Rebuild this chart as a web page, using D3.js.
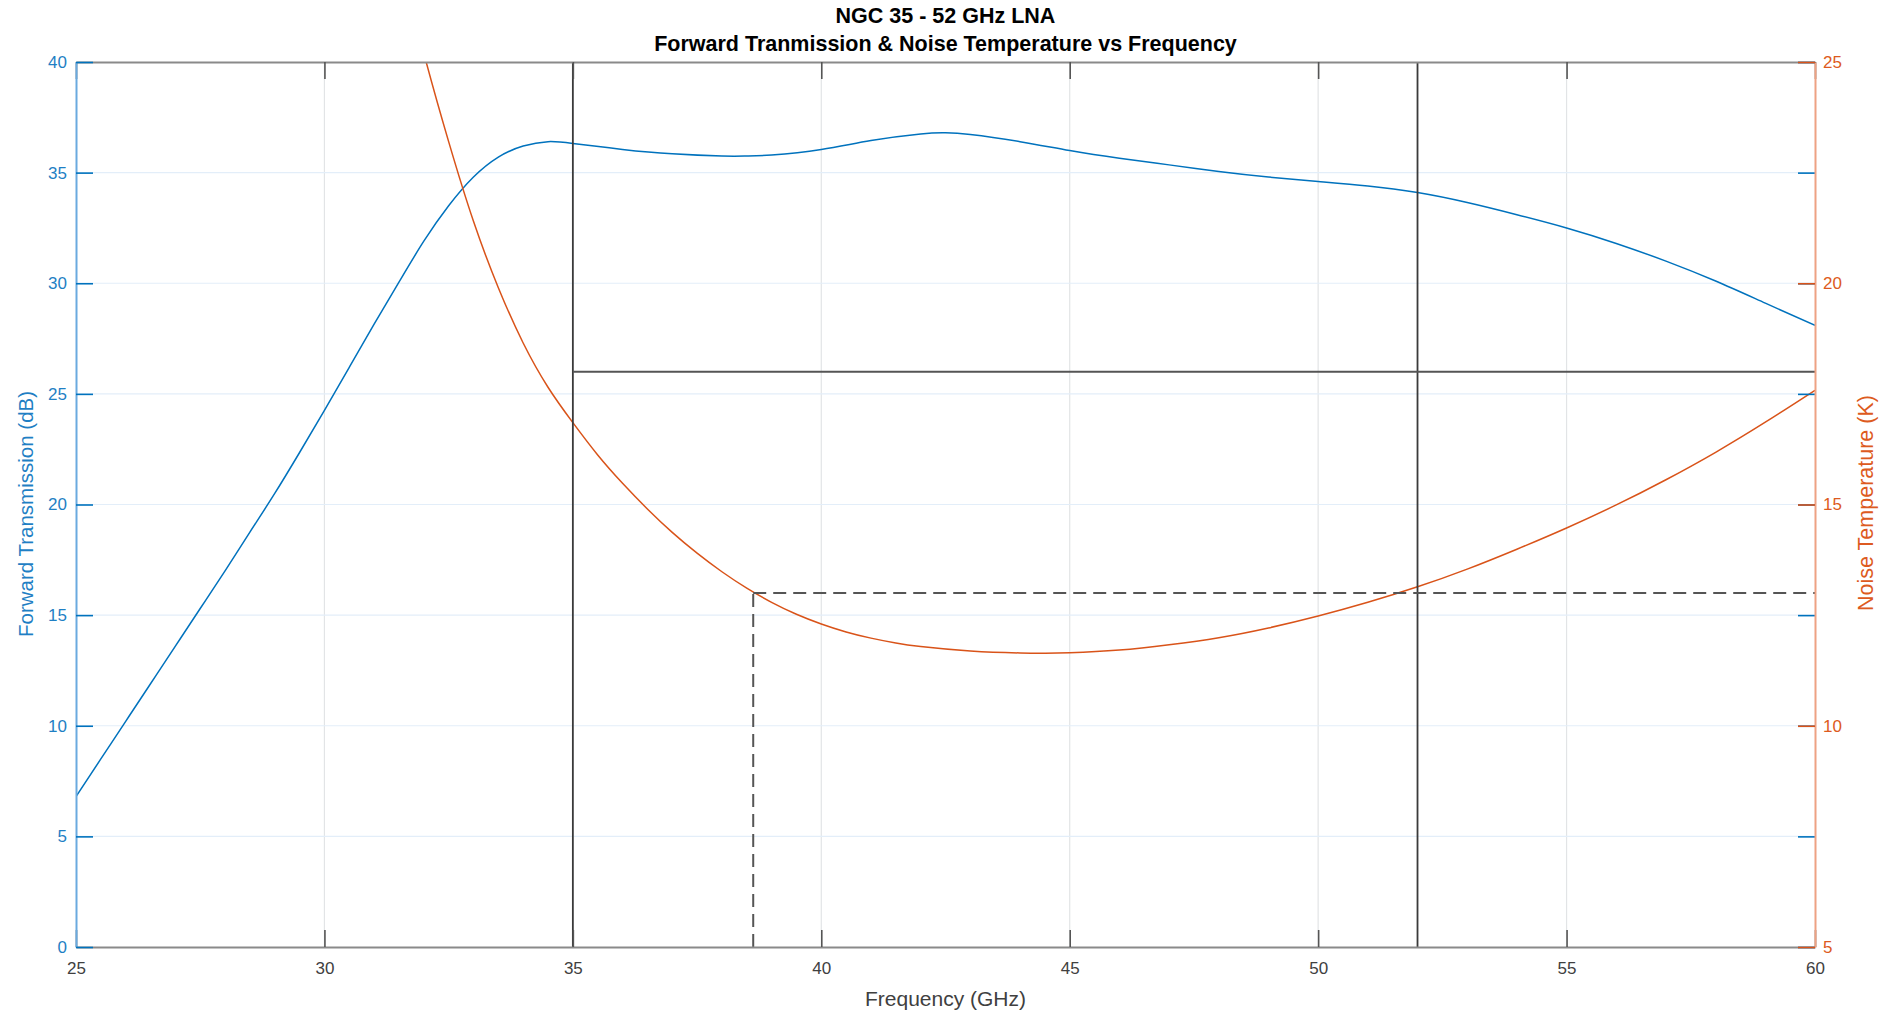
<!DOCTYPE html>
<html>
<head>
<meta charset="utf-8">
<script src="https://cdn.jsdelivr.net/npm/d3@7"></script>
<style>
  body { margin: 0; background: #fff; }
  svg text { font-family: "Liberation Sans", Arial, Helvetica, sans-serif; }
</style>
</head>
<body>
<div id="chart"></div>
<script>
// forward transmission (dB) vs frequency (GHz)
const gainFreq = [25, 25.5, 26, 26.5, 27, 27.5, 28, 28.5, 29, 29.5, 30, 30.5, 31, 31.5, 32, 32.5, 33, 33.5, 34, 34.5,
  35, 36, 37, 38, 38.5, 39, 40, 41, 42, 42.5, 43, 44, 45, 46, 47, 48, 49, 50, 51, 52, 53, 54, 55, 56, 57, 58, 59, 60];
const gainDb = [6.8, 8.5, 10.2, 11.9, 13.6, 15.3, 17.0, 18.75, 20.5, 22.35, 24.25, 26.2, 28.15, 30.05, 31.9, 33.5, 34.8, 35.7, 36.2, 36.4,
  36.32, 36.05, 35.85, 35.75, 35.75, 35.8, 36.05, 36.45, 36.75, 36.8, 36.72, 36.4, 36.0, 35.65, 35.35, 35.05, 34.8, 34.6, 34.4, 34.1,
  33.65, 33.1, 32.5, 31.8, 31.0, 30.1, 29.1, 28.1];

// noise temperature (K) vs frequency (GHz)
const noiseFreq = [31.5, 32, 32.5, 33, 33.5, 34, 34.5, 35, 35.5, 36, 36.5, 37, 37.5, 38, 38.5, 39, 39.5, 40, 40.5, 41, 41.5, 42,
  43, 44, 44.5, 45, 46, 47, 48, 49, 50, 51, 52, 53, 54, 55, 56, 57, 58, 59, 60];
const noiseK = [27.4, 25.2, 23.2, 21.4, 19.9, 18.65, 17.65, 16.85, 16.12, 15.48, 14.9, 14.37, 13.9, 13.48, 13.11, 12.79, 12.52, 12.3,
  12.12, 11.98, 11.87, 11.79, 11.69, 11.645, 11.64, 11.65, 11.71, 11.83, 11.99, 12.21, 12.48, 12.79, 13.14, 13.54, 13.99, 14.47,
  14.99, 15.56, 16.18, 16.86, 17.58];

// ticks
const xTicks = [25, 30, 35, 40, 45, 50, 55, 60];
const leftTicks = [0, 5, 10, 15, 20, 25, 30, 35, 40];
const rightTicks = [5, 10, 15, 20, 25];

// band edges and spec lines
const bandEdges = [35, 52];
const gainSpec = 26;        // dB, from 35 GHz to 60 GHz
const noiseSpec = 13;       // K
const noiseSpecStart = 38.63;

const blue = "#0072BD", blueText = "#1f7fc4", blueAxis = "#6aaadf";
const orange = "#D95319", orangeText = "#dd5a20", orangeAxis = "#eea283";

var margin = {top: 62, right: 81, bottom: 69, left: 76},
    width = 1896 - margin.left - margin.right,
    height = 1016 - margin.top - margin.bottom;

var x = d3.scaleLinear().domain([25, 60]).range([0, width]);
var yL = d3.scaleLinear().domain([0, 40]).range([height, 0]);
var yR = d3.scaleLinear().domain([5, 25]).range([height, 0]);

var svgRoot = d3.select("#chart").append("svg")
    .attr("width", 1896)
    .attr("height", 1016);

svgRoot.append("rect").attr("width", 1896).attr("height", 1016).attr("fill", "#fff");

var svg = svgRoot.append("g")
    .attr("transform", "translate(" + margin.left + "," + margin.top + ")");

svg.append("defs").append("clipPath").attr("id", "plotclip")
  .append("rect").attr("width", width).attr("height", height);

// grid
svg.append("g").selectAll("line")
    .data(xTicks.slice(1, -1))
    .enter().append("line")
    .attr("x1", d => x(d)).attr("x2", d => x(d))
    .attr("y1", 0).attr("y2", height)
    .attr("stroke", "#e2e4e6").attr("stroke-width", 1.2);

svg.append("g").selectAll("line")
    .data(leftTicks.slice(1, -1))
    .enter().append("line")
    .attr("x1", 0).attr("x2", width)
    .attr("y1", d => yL(d)).attr("y2", d => yL(d))
    .attr("stroke", "#e3eef9").attr("stroke-width", 1.2);

// curves
var plot = svg.append("g").attr("clip-path", "url(#plotclip)");

var gainLine = d3.line()
    .x((d, i) => x(gainFreq[i]))
    .y(d => yL(d))
    .curve(d3.curveNatural);

var noiseLine = d3.line()
    .x((d, i) => x(noiseFreq[i]))
    .y(d => yR(d))
    .curve(d3.curveNatural);

plot.append("path")
    .attr("d", gainLine(gainDb))
    .attr("fill", "none")
    .attr("stroke", blue)
    .attr("stroke-width", 1.5);

plot.append("path")
    .attr("d", noiseLine(noiseK))
    .attr("fill", "none")
    .attr("stroke", orange)
    .attr("stroke-width", 1.5);

// band edges
svg.append("g").selectAll("line")
    .data(bandEdges)
    .enter().append("line")
    .attr("x1", d => x(d)).attr("x2", d => x(d))
    .attr("y1", 0).attr("y2", height)
    .attr("stroke", "#3a3a3a").attr("stroke-width", 1.8);

// gain spec
svg.append("line")
    .attr("x1", x(bandEdges[0])).attr("x2", x(60))
    .attr("y1", yL(gainSpec)).attr("y2", yL(gainSpec))
    .attr("stroke", "#555").attr("stroke-width", 2.2);

// noise spec (dashed)
svg.append("line")
    .attr("x1", x(noiseSpecStart)).attr("x2", x(60))
    .attr("y1", yR(noiseSpec)).attr("y2", yR(noiseSpec))
    .attr("stroke", "#555").attr("stroke-width", 2.2)
    .attr("stroke-dasharray", "13,7");

svg.append("line")
    .attr("x1", x(noiseSpecStart)).attr("x2", x(noiseSpecStart))
    .attr("y1", height).attr("y2", yR(noiseSpec))
    .attr("stroke", "#555").attr("stroke-width", 2)
    .attr("stroke-dasharray", "13,7");

// axes
function styleAxis(g, lineColor, textColor, tickColor) {
  g.select(".domain").attr("stroke", lineColor).attr("stroke-width", 2);
  g.selectAll(".tick line").attr("stroke", tickColor).attr("stroke-width", 1.6);
  g.selectAll(".tick text").attr("fill", textColor).attr("font-size", 17)
    .attr("font-family", "Liberation Sans, Arial, sans-serif");
}

var xTop = svg.append("g")
    .call(d3.axisTop(x).tickValues(xTicks).tickSizeInner(-17).tickSizeOuter(0).tickFormat(""));
styleAxis(xTop, "#8a8a8a", "#404040", "#555");

var xBottom = svg.append("g")
    .attr("transform", "translate(0," + height + ")")
    .call(d3.axisBottom(x).tickValues(xTicks).tickSizeInner(-17).tickSizeOuter(0).tickPadding(15));
styleAxis(xBottom, "#8a8a8a", "#404040", "#555");

// left ticks mirrored on the right side
var yLMirror = svg.append("g")
    .attr("transform", "translate(" + width + ",0)")
    .call(d3.axisRight(yL).tickValues(leftTicks).tickSizeInner(-17).tickSizeOuter(0).tickFormat(""));
styleAxis(yLMirror, "none", blueText, blue);
yLMirror.select(".domain").remove();

var yRight = svg.append("g")
    .attr("transform", "translate(" + width + ",0)")
    .call(d3.axisRight(yR).tickValues(rightTicks).tickSizeInner(-17).tickSizeOuter(0).tickPadding(8));
styleAxis(yRight, orangeAxis, orangeText, orange);

var yLeft = svg.append("g")
    .call(d3.axisLeft(yL).tickValues(leftTicks).tickSizeInner(-17).tickSizeOuter(0).tickPadding(9));
styleAxis(yLeft, blueAxis, blueText, blue);

// titles and labels
svgRoot.append("text")
    .attr("x", margin.left + width / 2).attr("y", 23)
    .attr("text-anchor", "middle")
    .attr("font-size", 21.5).attr("font-weight", "bold").attr("fill", "#000")
    .text("NGC 35 - 52 GHz LNA");

svgRoot.append("text")
    .attr("x", margin.left + width / 2).attr("y", 51)
    .attr("text-anchor", "middle")
    .attr("font-size", 21.5).attr("font-weight", "bold").attr("fill", "#000")
    .text("Forward Tranmission & Noise Temperature vs Frequency");

svgRoot.append("text")
    .attr("x", margin.left + width / 2).attr("y", 1006)
    .attr("text-anchor", "middle")
    .attr("font-size", 21).attr("fill", "#404040")
    .text("Frequency (GHz)");

svgRoot.append("text")
    .attr("transform", "translate(33,514) rotate(-90)")
    .attr("text-anchor", "middle")
    .attr("font-size", 20.5).attr("fill", blueText)
    .text("Forward Transmission (dB)");

svgRoot.append("text")
    .attr("transform", "translate(1873,503) rotate(-90)")
    .attr("text-anchor", "middle")
    .attr("font-size", 21.5).attr("fill", orangeText)
    .text("Noise Temperature (K)");
</script>
</body>
</html>
